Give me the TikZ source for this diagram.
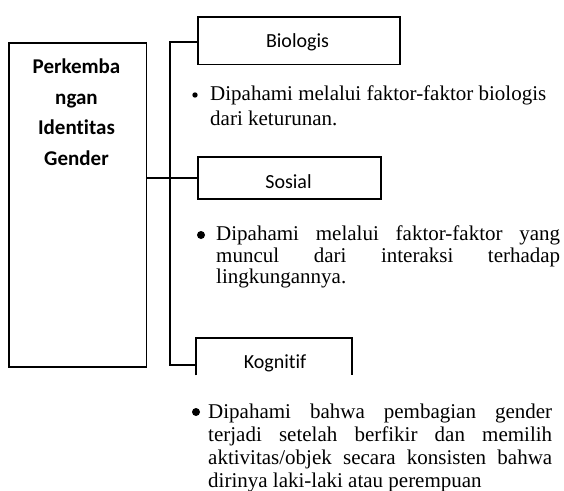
\documentclass[tikz,border=0pt]{standalone}
\usepackage{fontspec}
\setmainfont{Liberation Serif}
\newfontfamily\calibrifont[Ligatures=NoCommon]{Carlito}
\hyphenpenalty=10000
\exhyphenpenalty=10000
\tolerance=10000
\begin{document}
\begin{tikzpicture}[x=1pt,y=-1pt,
  boxst/.style={draw=black,line width=1.9pt,inner sep=0pt,anchor=north west},
  boxline/.style={draw=black,line width=1.9pt},
  conn/.style={draw=black,line width=1.4pt},
  lab/.style={font=\calibrifont\fontsize{20}{24}\selectfont,inner sep=0pt,anchor=base},
  para/.style={inner sep=0pt,anchor=north west},
  dot/.style={circle,fill=black,inner sep=0pt}]
\useasboundingbox (0,0) rectangle (564,490);
% main box
\node[boxst,minimum width=137.5pt,minimum height=324pt] (main) at (8,42) {};
\node[font=\calibrifont\bfseries\fontsize{21}{30.5}\selectfont,align=center,inner sep=0pt,anchor=north] (maintext) at (76.5,59) {Perkemba\\ngan\\Identitas\\Gender};
% category boxes
\node[boxst,minimum width=202pt,minimum height=47.5pt] (bio) at (197,16) {};
\node[boxst,minimum width=183pt,minimum height=42pt] (sos) at (197,156) {};
\node[inner sep=0pt,anchor=north west,minimum width=156pt,minimum height=37pt] (kog) at (196,338) {};
\draw[boxline] (kog.south west) -- (kog.north west) -- (kog.north east) -- (kog.south east);
% labels
\node[lab] (biolab) at (297.5,47) {Biologis};
\node[lab] (soslab) at (288.5,188) {Sosial};
\node[lab] (koglab) at (275,368) {Kognitif};
% connectors
\coordinate (jt) at (170,42);
\coordinate (jb) at (170,365);
\draw[conn] (bio.west |- jt) -- (jt) -- (jb) -- (kog.west |- jb);
\draw[conn] (main.east |- sos.west) -- (sos.west);
% bullets
\node[dot,minimum size=5.4pt] (b1) at (195,95) {};
\node[dot,minimum size=8pt] (b2) at (201,235) {};
\node[dot,minimum size=8pt] (b3) at (196,412) {};
% paragraphs
\node[para,text width=345pt,align=flush left,font=\fontsize{21}{25}\selectfont] (biotext) at (210,85.4) {Dipahami melalui faktor-faktor biologis dari keturunan.};
\node[para,text width=344pt,align=justify,font=\fontsize{21}{21.5}\selectfont] (sostext) at (216,226) {Dipahami melalui faktor-faktor yang\linebreak muncul dari interaksi terhadap\linebreak lingkungannya.};
\node[para,text width=344pt,align=justify,font=\fontsize{21}{23}\selectfont] (kogtext) at (208,403.5) {Dipahami bahwa pembagian gender\linebreak terjadi setelah berfikir dan memilih\linebreak aktivitas/objek secara konsisten bahwa\linebreak dirinya laki-laki atau perempuan};
\end{tikzpicture}
\end{document}
